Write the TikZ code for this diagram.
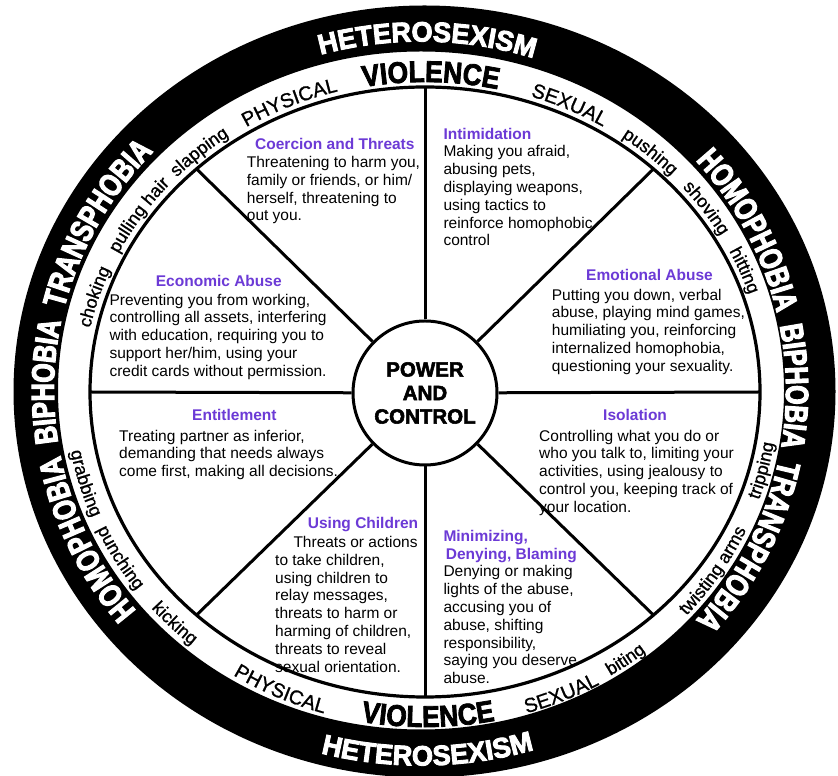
\documentclass[tikz,border=0pt]{standalone}
\usepackage{fontspec}
\setmainfont{Liberation Sans}
\newfontfamily\ringfont{Liberation Sans}[FakeStretch=0.78,FakeBold=3.5]
\newfontfamily\hetfont{Liberation Sans}[FakeStretch=0.97,FakeBold=3.2]
\newfontfamily\violfont{Liberation Sans}[FakeStretch=0.88,FakeBold=2.6]
\newfontfamily\medfont{Liberation Sans}[FakeBold=1.0]
\newfontfamily\pcfont{Liberation Sans}[FakeBold=2.6]
\usetikzlibrary{decorations.text}
\definecolor{headpurple}{RGB}{108,58,214}
\def\ctr{C}
\newcommand\cwtext[7]{%
  \pgfmathsetmacro\arcA{#1+#2}\pgfmathsetmacro\arcB{#1-#2}%
  \path[decorate,decoration={text along path,text align=center,text color=#5,text={|#6|#7}}]
    ([shift={(\ctr)}]\arcA:#3 and #4) arc[start angle=\arcA,end angle=\arcB,x radius=#3,y radius=#4];}
\newcommand\ccwtext[7]{%
  \pgfmathsetmacro\arcA{#1-#2}\pgfmathsetmacro\arcB{#1+#2}%
  \path[decorate,decoration={text along path,text align=center,text color=#5,text={|#6|#7}}]
    ([shift={(\ctr)}]\arcA:#3 and #4) arc[start angle=\arcA,end angle=\arcB,x radius=#3,y radius=#4];}
\begin{document}
\begin{tikzpicture}[x=1pt,y=1pt,
  body/.style={font=\fontsize{15.5}{17.8}\selectfont,align=left,inner sep=0pt,anchor=north west,text=black},
  head/.style={font=\fontsize{15.5}{17.6}\selectfont\bfseries,text=headpurple,inner sep=0pt,anchor=base west},
  spoke/.style={line width=3pt}]
\useasboundingbox (0,0) rectangle (838,776);
\fill[white] (0,0) rectangle (838,776);
\coordinate (C) at (425,384);
\coordinate (C2) at (421,385.5);
\coordinate (C3) at (424.5,384.5);
% black ring
\fill[black,even odd rule] (C3) ellipse[x radius=411,y radius=386] (C2) ellipse[x radius=363,y radius=339];
% wheel
\draw[line width=3.2pt] (C) ellipse[x radius=335,y radius=305];
\node[circle,draw,line width=3pt,fill=white,minimum size=144pt,inner sep=0pt,align=center,
  font=\pcfont\bfseries\fontsize{20.5}{23.5}\selectfont] (pc) at (425,383) {POWER\\AND\\CONTROL};
\coordinate (sN) at ([shift={(C)}]90:335 and 305);
\coordinate (sS) at ([shift={(C)}]270:335 and 305);
\coordinate (sE) at ([shift={(C)}]0:335 and 305);
\coordinate (sW) at ([shift={(C)}]180:335 and 305);
\coordinate (sNE) at ([shift={(C)}]47:335 and 305);
\coordinate (sNW) at ([shift={(C)}]133:335 and 305);
\coordinate (sSW) at ([shift={(C)}]227:335 and 305);
\coordinate (sSE) at ([shift={(C)}]313:335 and 305);
\foreach \s in {sN,sS,sE,sW,sNE,sNW,sSW,sSE} \draw[spoke] (pc) -- (\s);
% ring text
\def\ctr{C2}
\cwtext{89}{40}{367}{349}{white}{\hetfont\bfseries\fontsize{28}{30}\selectfont}{HETEROSEXISM}
\ccwtext{271}{40}{394}{375}{white}{\hetfont\bfseries\fontsize{28}{30}\selectfont}{HETEROSEXISM}
\cwtext{178}{65}{367}{349}{white}{\ringfont\bfseries\fontsize{32}{34}\selectfont}{HOMOPHOBIA{\kern13pt}BIPHOBIA{\kern13pt}TRANSPHOBIA}
\cwtext{0}{65}{365}{349}{white}{\ringfont\bfseries\fontsize{32}{34}\selectfont}{HOMOPHOBIA{\kern13pt}BIPHOBIA{\kern13pt}TRANSPHOBIA}
% violence band
\def\ctr{C}
\cwtext{89}{30}{338}{310}{black}{\violfont\bfseries\fontsize{30}{32}\selectfont}{VIOLENCE}
\ccwtext{270.5}{30}{361}{335}{black}{\violfont\bfseries\fontsize{30}{32}\selectfont}{VIOLENCE}
\cwtext{113.4}{22}{341}{311}{black}{\medfont\fontsize{20}{22}\selectfont}{PHYSICAL}
\cwtext{65}{22}{341}{311}{black}{\medfont\fontsize{20}{22}\selectfont}{SEXUAL}
\ccwtext{245.5}{22}{359}{335}{black}{\medfont\fontsize{20}{22}\selectfont}{PHYSICAL}
\ccwtext{293}{22}{358}{335}{black}{\medfont\fontsize{20}{22}\selectfont}{SEXUAL}
\cwtext{49}{20}{341}{312}{black}{\medfont\fontsize{18}{20}\selectfont}{pushing}
\cwtext{35.2}{20}{341}{312}{black}{\medfont\fontsize{18}{20}\selectfont}{shoving}
\cwtext{22.3}{20}{341}{312}{black}{\medfont\fontsize{18}{20}\selectfont}{hitting}
\cwtext{131}{20}{342}{312}{black}{\medfont\fontsize{18}{20}\selectfont}{slapping}
\cwtext{146.2}{20}{342}{312}{black}{\medfont\fontsize{18}{20}\selectfont}{pulling hair}
\cwtext{162.7}{20}{342}{312}{black}{\medfont\fontsize{18}{20}\selectfont}{choking}
\ccwtext{196.1}{20}{360}{333}{black}{\medfont\fontsize{18}{20}\selectfont}{grabbing}
\ccwtext{210.3}{20}{360}{333}{black}{\medfont\fontsize{18}{20}\selectfont}{punching}
\ccwtext{224.8}{20}{360}{333}{black}{\medfont\fontsize{18}{20}\selectfont}{kicking}
\ccwtext{305.3}{20}{354}{333}{black}{\medfont\fontsize{18}{20}\selectfont}{biting}
\ccwtext{326.8}{20}{353}{333}{black}{\medfont\fontsize{18}{20}\selectfont}{twisting arms}
\ccwtext{346.2}{20}{353}{333}{black}{\medfont\fontsize{18}{20}\selectfont}{tripping}
% sections
\node[head] (hCo) at (255,626) {Coercion and Threats};
\node[body] (bCo) at (246.7,620) {Threatening to harm you,\\family or friends, or him/\\herself, threatening to\\out you.};
\node[head] (hEc) at (155.7,489.3) {Economic Abuse};
\node[body] (bEc) at (109.3,482.3) {Preventing you from working,\\controlling all assets, interfering\\with education, requiring you to\\support her/him, using your\\credit cards without permission.};
\node[head] (hIn) at (443.3,636.7) {Intimidation};
\node[body] (bIn) at (443.3,630.6) {Making you afraid,\\abusing pets,\\displaying weapons,\\using tactics to\\reinforce homophobic\\control};
\node[head] (hEm) at (586,495.3) {Emotional Abuse};
\node[body] (bEm) at (551.7,487.3) {Putting you down, verbal\\abuse, playing mind games,\\humiliating you, reinforcing\\internalized homophobia,\\questioning your sexuality.};
\node[head] (hEn) at (192,355.5) {Entitlement};
\node[body] (bEn) at (119,346.3) {Treating partner as inferior,\\demanding that needs always\\come first, making all decisions.};
\node[head] (hIs) at (603,355.5) {Isolation};
\node[body] (bIs) at (539,346.3) {Controlling what you do or\\who you talk to, limiting your\\activities, using jealousy to\\control you, keeping track of\\your location.};
\node[head] (hUs) at (307.7,247) {Using Children};
\node[body] (bUs) at (275,240) {\hspace*{18.3pt}Threats or actions\\to take children,\\using children to\\relay messages,\\threats to harm or\\harming of children,\\threats to reveal\\sexual orientation.};
\node[head,anchor=north west,align=left] (hMi) at (443.3,245.6) {Minimizing,\\\hspace*{2.4pt}Denying, Blaming};
\node[body] (bMi) at (443.3,210.6) {Denying or making\\lights of the abuse,\\accusing you of\\abuse, shifting\\responsibility,\\saying you deserve\\abuse.};
\end{tikzpicture}
\end{document}
